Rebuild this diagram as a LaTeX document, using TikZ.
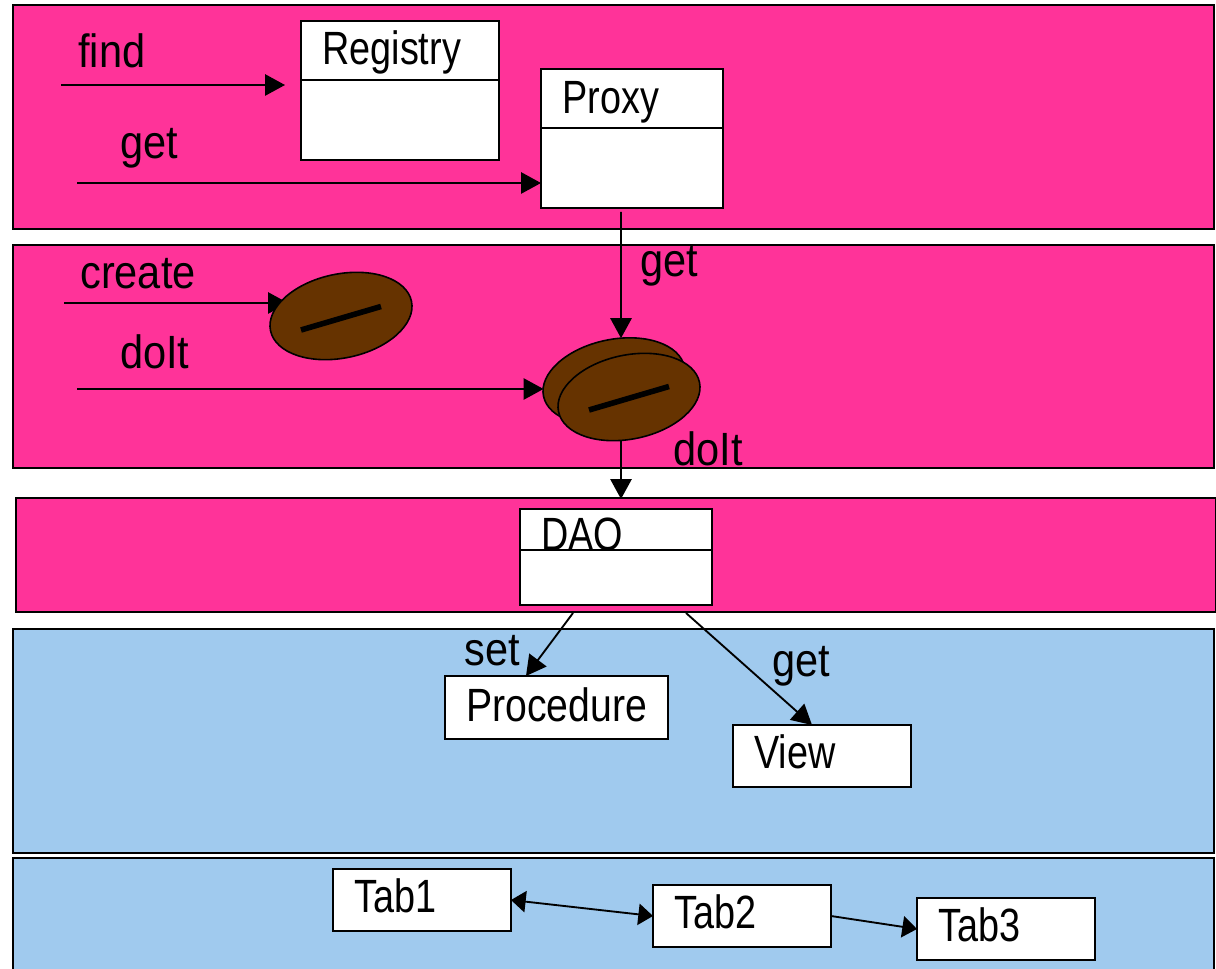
\documentclass[tikz,border=0pt]{standalone}
\usepackage{fontspec}
\setmainfont{Liberation Sans}
\newfontfamily\lblfont[FakeStretch=0.89]{Liberation Sans}
\newfontfamily\boxfont[FakeStretch=0.81]{Liberation Sans}
\newfontfamily\procfont[FakeStretch=0.84]{Liberation Sans}
\usetikzlibrary{arrows.meta,backgrounds,positioning,shapes.geometric}

\definecolor{layerpink}{HTML}{FF3399}
\definecolor{layerblue}{HTML}{A0CAEE}
\definecolor{beanbrown}{HTML}{663300}

\tikzset{
  layerbox/.style={draw,fill=#1,line width=1.3pt,inner sep=0pt,outer sep=0pt},
  classbox/.style={draw,fill=white,line width=1.3pt,inner xsep=16pt,inner ysep=0pt,outer sep=0pt,
    text width=#1,minimum width=#1+32pt,align=left,text height=27pt,text depth=6pt,
    font=\boxfont\fontsize{35}{37}\selectfont},
  classbody/.style={draw,fill=white,line width=1.3pt,inner sep=0pt,outer sep=0pt,minimum width=#1},
  smallbox/.style={classbox=101.5pt,minimum height=46.5pt,text height=24.5pt},
  bean/.style={ellipse,draw,fill=beanbrown,line width=1.2pt,inner sep=0pt,outer sep=0pt,
    minimum width=108pt,minimum height=63pt,rotate=11.8},
  beanslash/.style={line width=4.2pt},
  flow/.style={line width=1.4pt},
  tabflow/.style={line width=1.4pt,>={Triangle[length=11pt,width=16pt]}},
  lbl/.style={anchor=base west,inner sep=0pt,font=\lblfont\fontsize{35}{37}\selectfont}
}

\begin{document}
\begin{tikzpicture}[x=0.75pt,y=-0.75pt,>={Triangle[length=15pt,width=16pt]}]
    \useasboundingbox (0,0) rectangle (1216,969);
    \begin{scope}[on background layer]
      \node[layerbox=layerpink,minimum width=900.75pt,minimum height=168pt] (layer_a) at (613.5,117) {};
      \node[layerbox=layerpink,minimum width=900.75pt,minimum height=167.25pt] (layer_b) at (613.5,356.5) {};
      \node[layerbox=layerpink,minimum width=900pt,minimum height=85.5pt] (layer_c) at (616,555) {};
      \node[layerbox=layerblue,minimum width=900.75pt,minimum height=168pt] (layer_d) at (613.5,741) {};
      \node[layerbox=layerblue,minimum width=900.75pt,minimum height=91.5pt] (layer_e) at (613.5,919) {};
    \end{scope}

    % class boxes
    \node[classbox=116.5pt,minimum height=44.25pt] (registry) at (400,50.5) {Registry};
    \node[classbody=148.5pt,minimum height=60pt] (registry_b) [below=0pt of registry] {};
    \node[classbox=104.5pt,minimum height=44.25pt,text height=28pt] (proxy) at (632,98.5) {Proxy};
    \node[classbody=136.5pt,minimum height=60pt] (proxy_b) [below=0pt of proxy] {};
    \node[classbox=112pt,minimum height=30.75pt,text height=0pt,text depth=0pt] (dao) at (616,529.5) {\raisebox{-16pt}[0pt][0pt]{DAO}};
    \node[classbody=144pt,minimum height=41.25pt] (dao_b) [below=0pt of dao] {};

    \node[classbox=135.25pt,minimum height=47.25pt,font=\procfont\fontsize{35}{37}\selectfont] (procedure) at (556.5,707.5) {Procedure};
    \node[smallbox] (view) at (822,756) {View};
    \node[smallbox] (tab1) at (422,900) {Tab1};
    \node[smallbox] (tab2) at (742,916) {Tab2};
    \node[smallbox] (tab3) at (1006,929) {Tab3};

    % beans
    \node[bean] (bean_a) at (341,316) {};
    \node[bean] (bean_b) at (614,381.5) {};
    \node[bean] (bean_c) at (629,397) {};
    \draw[beanslash] ([shift={(-40,14)}]bean_a.center) -- ([shift={(40,-9.5)}]bean_a.center);
    \draw[beanslash] ([shift={(-40,13)}]bean_c.center) -- ([shift={(40,-10.5)}]bean_c.center);

    % labels
    \node[lbl] (l_find) at (78,68) {find};
    \node[lbl] (l_get) at (120,159) {get};
    \node[lbl] (l_create) at (80,289) {create};
    \node[lbl] (l_doit) at (120,369) {doIt};
    \node[lbl] (l_get2) at (640,277) {get};
    \node[lbl] (l_doit2) at (673,465) {doIt};
    \node[lbl] (l_set) at (464,665) {set};
    \node[lbl] (l_get3) at (772,676) {get};

    % free ends
    \coordinate (find_s) at (61,85);
    \coordinate (find_e) at (285,85);
    \coordinate (get_s) at (77,183);
    \coordinate (create_s) at (64,303);
    \coordinate (create_e) at (288,303);
    \coordinate (doit_s) at (77,389);
    \coordinate (proxy_s) at (621,212);
    \coordinate (dao_e) at (621,499);
    \coordinate (set_s) at (573,613);
    \coordinate (view_s) at (686,613);

    \begin{scope}[on background layer]
      \path[flow,->]
          (find_s) edge (find_e)
          (get_s) edge (get_s -| proxy_b.west)
          (create_s) edge (create_e)
          (doit_s) edge (doit_s -| bean_b.west)
          (proxy_s) edge (bean_b.69)
          (dao_e |- bean_c.center) edge (dao_e)
          (set_s) edge ([xshift=60.75pt]procedure.north west)
          (view_s) edge ([xshift=59.25pt]view.north west);
      \path[tabflow,<->] (tab1.east) edge (tab2.west);
      \path[tabflow,->] (tab2.east) edge (tab3.west);
    \end{scope}
\end{tikzpicture}
\end{document}
